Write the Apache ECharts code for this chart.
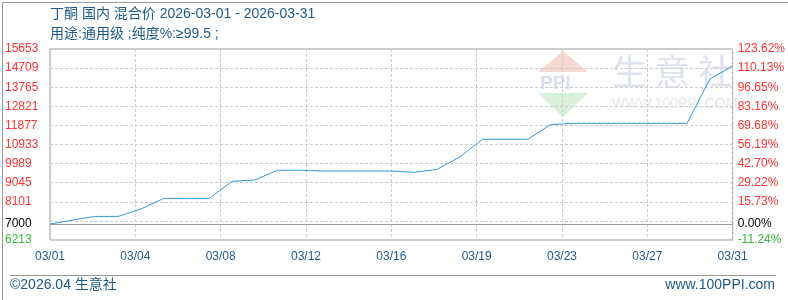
<!DOCTYPE html>
<html><head><meta charset="utf-8">
<script src="https://cdn.jsdelivr.net/npm/echarts@6/dist/echarts.min.js"></script>
<style>html,body{margin:0;padding:0;background:#fff}#c{width:788px;height:300px}</style>
</head><body><div id="c"></div>
<script>
// ---- data ----
const dates = ['03/01','03/02','03/03','03/04','03/05','03/06','03/07','03/08','03/09','03/10',
  '03/11','03/12','03/13','03/14','03/15','03/16','03/17','03/18','03/19','03/20',
  '03/21','03/22','03/23','03/24','03/25','03/26','03/27','03/28','03/29','03/30','03/31'];
const prices = [7000,7200,7380,7380,7750,8270,8270,8270,9110,9180,
  9660,9660,9620,9620,9620,9620,9560,9700,10310,11190,
  11190,11190,11910,11980,11980,11980,11980,11980,11980,14170,14810];
const xTickLabels = ['03/01','03/04','03/08','03/12','03/16','03/19','03/23','03/27','03/31'];
const leftTickLabels = ['6213','','8101','9045','9989','10933','11877','12821','13765','14709','15653'];
const rightTickLabels = ['-11.24%','','15.73%','29.22%','42.70%','56.19%','69.68%','83.16%','96.65%','110.13%','123.62%'];
const baseValue = 7000;
const baseLabelLeft = '7000';
const baseLabelRight = '0.00%';
const titleText = '丁酮 国内 混合价 2026-03-01 - 2026-03-31';
const subTitleText = '用途:通用级 ;纯度%:≥99.5 ;';
const footerLeft = '©2026.04 生意社';
const footerRight = 'www.100PPI.com';

const yMin = 6213, yMax = 15653, yStep = 944;
const xStep = 30 / 8;
const FONT = 'Liberation Sans, Noto Sans CJK SC, sans-serif';
const BLUE_TXT = '#1e5a8c';

const chart = echarts.init(document.getElementById('c'), null, {renderer: 'canvas'});
const yIdx = v => Math.round((v - yMin) / yStep);
const seriesData = dates.map((d, i) => [i, prices[i]]);

chart.setOption({
  animation: false,
  backgroundColor: '#fff',
  grid: {left: 50, top: 49, width: 688, height: 191, show: true, borderColor: '#999', borderWidth: 1, backgroundColor: 'transparent'},
  xAxis: {
    type: 'value', min: 0, max: 30, interval: xStep,
    axisLine: {show: false}, axisTick: {show: false},
    splitLine: {show: true, lineStyle: {color: '#ccc', type: [3, 2], width: 1}},
    axisLabel: {margin: 11, color: BLUE_TXT, fontSize: 12, fontFamily: FONT,
      formatter: v => xTickLabels[Math.round(v / xStep)] || ''}
  },
  yAxis: [{
    type: 'value', min: yMin, max: yMax, interval: yStep, position: 'left',
    axisLine: {show: false}, axisTick: {show: false},
    splitLine: {show: true, lineStyle: {color: '#ccc', type: [3, 2], width: 1}},
    axisLabel: {margin: 45, align: 'left', fontSize: 12, fontFamily: FONT,
      formatter: v => leftTickLabels[yIdx(v)] || '',
      color: v => yIdx(v) === 0 ? '#33b833' : '#ff3333'}
  }, {
    type: 'value', min: yMin, max: yMax, interval: yStep, position: 'right',
    axisLine: {show: false}, axisTick: {show: false}, splitLine: {show: false},
    axisLabel: {margin: 5, fontSize: 12, fontFamily: FONT,
      formatter: v => rightTickLabels[yIdx(v)] || '',
      color: v => yIdx(v) === 0 ? '#33b833' : '#ff3333'}
  }],
  graphic: [
    {type: 'rect', left: 0, top: 0, z: -10, shape: {x: 0.5, y: 0.5, width: 787, height: 299}, style: {fill: 'none', stroke: '#999', lineWidth: 1}},
    {type: 'text', left: 50, top: 7, style: {text: titleText, fill: BLUE_TXT, font: '14px ' + FONT}},
    {type: 'text', left: 50, top: 27, style: {text: subTitleText, fill: BLUE_TXT, font: '14px ' + FONT}},
    {type: 'line', z: -5, shape: {x1: 10, y1: 275.5, x2: 776, y2: 275.5}, style: {stroke: '#999', lineWidth: 1}},
    {type: 'text', left: 10, top: 278, style: {text: footerLeft, fill: BLUE_TXT, font: '14px ' + FONT}},
    {type: 'text', right: 13, top: 278, style: {text: footerRight, fill: BLUE_TXT, font: '14px ' + FONT}},
    // watermark logo
    {type: 'polygon', z: -1, shape: {points: [[563, 51], [538, 72], [588, 72]]}, style: {fill: '#f8d8d2'}},
    {type: 'text', z: -1, left: 540, top: 74, style: {text: 'PPI', fill: '#d8dfec', font: 'bold 19px ' + FONT}},
    {type: 'polygon', z: -1, shape: {points: [[538, 93], [588, 93], [563, 117]]}, style: {fill: '#d9f0da'}},
    {type: 'text', z: -1, left: 612, top: 54, style: {text: '生 意 社', fill: '#dfe3ee', font: '35px Noto Sans CJK SC'}},
    {type: 'text', z: -1, left: 612, top: 97, style: {text: 'WWW.100PPI.COM', fill: '#e8e8e8', font: '14px ' + FONT}}
  ],
  series: [{
    type: 'line', data: seriesData, showSymbol: false, symbol: 'none', smooth: false,
    lineStyle: {color: '#3399dd', width: 1}, itemStyle: {color: '#3399dd'},
    markLine: {
      silent: true, symbol: 'none', animation: false,
      lineStyle: {color: '#999', type: 'solid', width: 1},
      data: [
        {yAxis: baseValue, label: {position: 'start', distance: 45, align: 'left', formatter: baseLabelLeft, color: '#000', fontSize: 12, fontFamily: FONT}},
        {yAxis: baseValue, label: {position: 'end', distance: 5, formatter: baseLabelRight, color: '#000', fontSize: 12, fontFamily: FONT}}
      ]
    }
  }]
});
</script></body></html>
